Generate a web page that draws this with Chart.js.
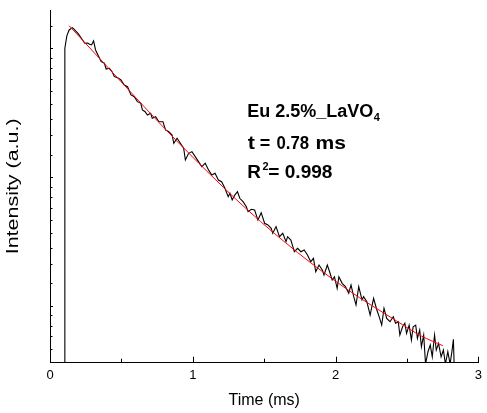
<!DOCTYPE html>
<html><head><meta charset="utf-8">
<script src="https://cdn.jsdelivr.net/npm/chart.js@4"></script>
<style>html,body{margin:0;padding:0;background:#fff;}canvas{display:block;}</style>
</head><body>
<canvas id="c" width="487" height="413"></canvas>
<script>
// Measured decay (time in ms, natural log of intensity in a.u.)
const timeMs = [0.099,0.104,0.118,0.134,0.157,0.173,0.196,0.220,0.243,0.264,0.277,0.291,0.305,0.319,0.347,0.359,0.381,0.393,0.416,0.435,0.451,0.474,0.497,0.520,0.543,0.567,0.590,0.612,0.636,0.647,0.666,0.682,0.705,0.716,0.740,0.763,0.791,0.809,0.832,0.855,0.867,0.890,0.913,0.936,0.948,0.971,0.994,1.017,1.040,1.063,1.087,1.110,1.133,1.156,1.179,1.202,1.225,1.248,1.260,1.276,1.295,1.313,1.329,1.352,1.375,1.387,1.410,1.433,1.456,1.479,1.503,1.526,1.549,1.560,1.583,1.607,1.630,1.653,1.664,1.687,1.711,1.734,1.757,1.780,1.803,1.826,1.845,1.861,1.884,1.907,1.919,1.942,1.954,1.976,1.992,2.011,2.023,2.046,2.069,2.092,2.108,2.127,2.143,2.162,2.185,2.196,2.219,2.242,2.266,2.289,2.305,2.323,2.339,2.358,2.381,2.404,2.420,2.439,2.450,2.469,2.485,2.497,2.515,2.531,2.543,2.561,2.573,2.589,2.601,2.617,2.630,2.647,2.663,2.677,2.693,2.705,2.721,2.739,2.755,2.769,2.786,2.802,2.816,2.825,2.834];
const lnIntensity = [-0.8,2.000,2.096,2.142,2.160,2.142,2.116,2.078,2.039,2.041,2.031,2.026,2.057,1.987,1.922,1.896,1.884,1.839,1.845,1.818,1.780,1.772,1.754,1.715,1.702,1.638,1.624,1.586,1.573,1.521,1.508,1.482,1.496,1.457,1.469,1.430,1.430,1.366,1.353,1.327,1.263,1.302,1.263,1.224,1.133,1.185,1.198,1.159,1.120,1.081,1.108,1.056,1.017,1.030,0.978,0.965,0.914,0.848,0.875,0.823,0.862,0.887,0.836,0.810,0.771,0.732,0.751,0.745,0.667,0.724,0.642,0.629,0.603,0.564,0.616,0.538,0.564,0.499,0.538,0.512,0.421,0.448,0.421,0.435,0.396,0.344,0.370,0.266,0.318,0.279,0.241,0.318,0.279,0.202,0.227,0.137,0.227,0.176,0.150,0.099,0.163,0.072,0.008,0.150,0.047,0.072,0.033,-0.070,0.060,-0.031,-0.083,-0.148,-0.018,-0.096,-0.122,-0.083,-0.134,-0.122,-0.225,-0.161,-0.134,-0.212,-0.148,-0.264,-0.161,-0.148,-0.251,-0.186,-0.316,-0.225,-0.45,-0.355,-0.303,-0.394,-0.225,-0.342,-0.290,-0.394,-0.342,-0.45,-0.355,-0.45,-0.342,-0.258,-0.6];
// Fitted curve
const fitTimeMs = [0.134,0.347,0.555,0.763,1.040,1.387,1.734,2.080,2.427,2.601,2.751];
const fitLnIntensity = [2.175,1.921,1.672,1.424,1.110,0.742,0.415,0.130,-0.116,-0.233,-0.308];
// Axis
const xTickLabels = ['0','1','2','3'];
const xAxisTitle = 'Time (ms)';
const yAxisTitle = 'Intensity (a.u.)';
// Annotation text
const sampleText = 'Eu 2.5%_LaVO';
const sampleSub = '4';
const tauParts = ['t','=','0.78','ms'];
const r2Parts = ['R','2','= 0.998'];
const annotX = 1.392;               // ms
const annotY = [1.467,1.216,0.991]; // ln-intensity baselines

const FONT = '"Liberation Sans", Arial, sans-serif';

const inwardTicks = {
  id:'inwardTicks',
  afterDraw(chart){
    const {ctx, chartArea:a, scales:{x,y}} = chart;
    ctx.save(); ctx.strokeStyle='#000'; ctx.lineWidth=1; ctx.beginPath();
    x.ticks.forEach(t=>{
      const px = Math.round(x.getPixelForValue(t.value))+0.5;
      const major = Math.abs(t.value-Math.round(t.value))<1e-6;
      if (t.value<=x.min+1e-6) return;
      ctx.moveTo(px,a.bottom); ctx.lineTo(px,a.bottom-(major?6:4));
    });
    y.ticks.forEach(t=>{
      const py = Math.round(y.getPixelForValue(t.value))+0.5;
      ctx.moveTo(a.left,py); ctx.lineTo(a.left+(t.major?3:2.5),py);
    });
    ctx.stroke(); ctx.restore();
  }
};

function textScaled(ctx, s, x, y, sx){
  ctx.save(); ctx.translate(x,y); ctx.scale(sx,1); ctx.fillText(s,0,0); ctx.restore();
}

const annot = {
  id:'annot',
  afterDraw(chart){
    const {ctx, chartArea:a, scales:{x,y}} = chart;
    const x0 = x.getPixelForValue(annotX);
    const big = 'bold 18px '+FONT, small = 'bold 11px '+FONT;
    ctx.save(); ctx.fillStyle='#000'; ctx.textAlign='left'; ctx.textBaseline='alphabetic';
    let yb = y.getPixelForValue(annotY[0]);
    ctx.font = big; ctx.fillText(sampleText, x0-1.5, yb);
    const w = ctx.measureText(sampleText).width;
    ctx.font = small; ctx.fillText(sampleSub, x0-1.5+w+0.5, yb+4);
    yb = y.getPixelForValue(annotY[1]);
    ctx.font = big;
    textScaled(ctx, tauParts[0], x0-1, yb, 1.2);
    ctx.fillText(tauParts[1], x0+11, yb);
    textScaled(ctx, tauParts[2], x0+27.7, yb, 0.93);
    textScaled(ctx, tauParts[3], x0+66.8, yb, 1.17);
    yb = y.getPixelForValue(annotY[2]);
    textScaled(ctx, r2Parts[0], x0-1.5, yb, 1.05);
    ctx.font = small; ctx.fillText(r2Parts[1], x0+13.8, yb-8);
    ctx.font = big; textScaled(ctx, r2Parts[2], x0+19.5, yb, 1.06);
    // y-axis title (rotated)
    ctx.font = '16px '+FONT; ctx.textAlign='center'; ctx.textBaseline='middle';
    ctx.translate(13.5,(a.top+a.bottom)/2); ctx.rotate(-Math.PI/2); ctx.scale(1.34,1);
    ctx.fillText(yAxisTitle,0,0);
    ctx.restore();
  }
};

new Chart(document.getElementById('c'), {
  type:'line',
  data:{
    datasets:[
      {label:'fit', data: fitTimeMs.map((t,i)=>({x:t,y:fitLnIntensity[i]})), borderColor:'#ff0000', borderWidth:1, pointRadius:0, cubicInterpolationMode:'monotone', order:0},
      {label:'data', data: timeMs.map((t,i)=>({x:t,y:lnIntensity[i]})), borderColor:'#000000', borderWidth:1.1, pointRadius:0, tension:0, order:1}
    ]
  },
  options:{
    responsive:false, animation:false, devicePixelRatio:1,
    layout:{padding:{top:10,right:4,left:0,bottom:0}},
    plugins:{legend:{display:false}, tooltip:{enabled:false}},
    scales:{
      x:{type:'linear', min:0, max:3,
        grid:{display:false, drawTicks:false}, border:{display:true,color:'#000',width:1},
        ticks:{stepSize:0.5, padding:5, color:'#000', font:{family:FONT,size:13},
          autoSkip:false, maxRotation:0,
          callback:(v)=>{const i=Math.round(v); return Math.abs(v-i)<1e-6 ? xTickLabels[i] : '';}},
        title:{display:true, text:xAxisTitle, color:'#000', font:{family:FONT,size:16}, padding:{top:0,bottom:3}},
        afterFit:(s)=>{s.height=50.3;}
      },
      y:{type:'linear', min:-0.44, max:2.297,
        grid:{display:false, drawTicks:false}, border:{display:true,color:'#000',width:1},
        ticks:{display:false},
        title:{display:false},
        afterBuildTicks:(s)=>{
          const out=[];
          for(let k=-1;k<=3;k++){
            for(let i=0;i<9;i++){
              const v = k+Math.log(1+i*(Math.E-1)/9);
              if (v>s.min+0.02 && v<s.max) out.push({value:v, major:i===0});
            }
          }
          s.ticks = out;
        },
        afterFit:(s)=>{s.width=50;}
      }
    }
  },
  plugins:[inwardTicks, annot]
});
</script>
</body></html>
